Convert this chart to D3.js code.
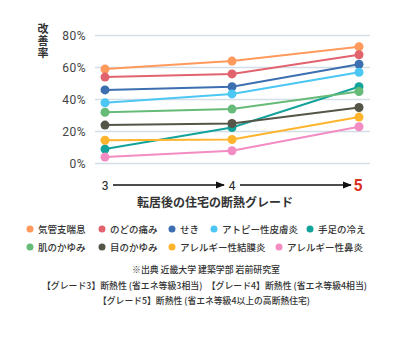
<!DOCTYPE html>
<html><head><meta charset="utf-8">
<script src="https://cdn.jsdelivr.net/npm/d3@7/dist/d3.min.js"></script>
<style>body{margin:0;background:#fff;}svg{display:block;font-family:"Noto Sans CJK JP","Noto Sans",sans-serif;}</style>
</head><body>
<script>
const grades = ["3", "4", "5"];
const seriesNames = ["気管支喘息","のどの痛み","せき","アトピー性皮膚炎","手足の冷え","肌のかゆみ","目のかゆみ","アレルギー性結膜炎","アレルギー性鼻炎"];
const seriesColors = ["#ff9a5c","#e0636e","#3d6fb0","#4cc6f2","#13a39b","#67bb78","#555548","#ffb42e","#f28cc2"];
const v_kikanshi = [59, 64, 73];
const v_nodo = [54, 56, 68];
const v_seki = [46, 48, 62];
const v_atopy = [38, 43.5, 57];
const v_teashi = [9, 22.5, 48];
const v_hada = [32, 34, 45];
const v_me = [24, 25, 35];
const v_ketsumaku = [14.5, 15, 29];
const v_bien = [4, 8, 23];
const seriesValues = [v_kikanshi, v_nodo, v_seki, v_atopy, v_teashi, v_hada, v_me, v_ketsumaku, v_bien];
const yTicks = [0, 20, 40, 60, 80];
const notes = ["※出典 近畿大学 建築学部 岩前研究室","【グレード3】断熱性 (省エネ等級3相当)　【グレード4】断熱性 (省エネ等級4相当)","【グレード5】断熱性 (省エネ等級4以上の高断熱住宅)"];

const W=410,H=340;
const svg=d3.select("body").append("svg").attr("width",W).attr("height",H);
const x=d3.scalePoint().domain(grades).range([105,359]);
const y=d3.scaleLinear().domain([0,80]).range([163.5,35.5]);

// grid
const yAxis=d3.axisLeft(y).tickValues(yTicks).tickFormat(d=>d+"%").tickSize(0).tickPadding(9);
const ga=svg.append("g").attr("transform","translate(95,0)").call(yAxis);
ga.select(".domain").remove();
ga.selectAll("text").attr("font-size",12).attr("fill","#444").attr("letter-spacing",0.5).attr("font-family","Roboto,'Noto Sans',sans-serif");
svg.append("g").selectAll("line").data(yTicks).join("line")
  .attr("x1",95).attr("x2",370).attr("y1",d=>y(d)).attr("y2",d=>y(d))
  .attr("stroke","#d3dee6").attr("stroke-width",1.5);

// y label vertical
svg.append("text").attr("x",43).attr("y",23).attr("font-size",11).attr("font-weight","bold")
  .attr("fill","#333").style("writing-mode","vertical-rl").style("letter-spacing","1px").text("改善率");

// lines
const line=d3.line().x((d,i)=>x(grades[i])).y(d=>y(d));
seriesValues.forEach((vals,k)=>{
  const g=svg.append("g");
  g.append("path").datum(vals).attr("d",line).attr("fill","none").attr("stroke",seriesColors[k]).attr("stroke-width",2);
  g.selectAll("circle").data(vals).join("circle").attr("cx",(d,i)=>x(grades[i])).attr("cy",d=>y(d)).attr("r",4.5).attr("fill",seriesColors[k]);
});

// grade arrow axis
const defs=svg.append("defs");
defs.append("marker").attr("id","ah").attr("viewBox","0 0 10 10").attr("refX",9).attr("refY",5)
  .attr("markerWidth",6).attr("markerHeight",6).attr("orient","auto")
  .append("path").attr("d","M0,1L10,5L0,9Z").attr("fill","#111");
const ay=185;
svg.selectAll("text.grade").data(grades).join("text").attr("class","grade")
  .attr("x",d=>x(d)-(d==="5"?1:0)).attr("y",d=>d==="5"?ay+5.5:ay+4.5).attr("text-anchor","middle")
  .attr("font-size",d=>d==="5"?16:12).attr("font-weight",d=>d==="5"?"bold":"normal")
  .attr("fill",d=>d==="5"?"#d9311f":"#222").attr("font-family","Roboto,'Noto Sans',sans-serif").text(d=>d);
[[grades[0],grades[1]],[grades[1],grades[2]]].forEach(([a,b])=>{
  svg.append("line").attr("x1",x(a)+8).attr("x2",x(b)-8).attr("y1",ay).attr("y2",ay)
    .attr("stroke","#111").attr("stroke-width",1.5).attr("marker-end","url(#ah)");
});
svg.append("text").attr("x",215).attr("y",207).attr("text-anchor","middle").attr("font-size",12)
  .attr("font-weight","bold").attr("fill","#333").text("転居後の住宅の断熱グレード");

// legend
const legX=[30,102,172,214,310];
const leg2X=[30,102,172,279];
const legPos=seriesNames.map((n,i)=> i<5 ? [legX[i],229] : [leg2X[i-5],247]);
const lg=svg.append("g").selectAll("g").data(seriesNames).join("g")
  .attr("transform",(d,i)=>`translate(${legPos[i][0]},${legPos[i][1]})`);
lg.append("circle").attr("r",3.5).attr("fill",(d,i)=>seriesColors[i]);
lg.append("text").attr("x",8).attr("y",3.5).attr("font-size",9.5).attr("font-weight",500).attr("fill","#333").text(d=>d);

// notes
const noteLen=[148,325,212];
svg.append("g").selectAll("text").data(notes).join("text")
  .attr("x",(d,i)=>[206,204.5,204][i]).attr("y",(d,i)=>273+i*15.5).attr("text-anchor","middle")
  .attr("font-size",9).attr("font-weight",500).attr("fill","#333")
  .attr("textLength",(d,i)=>noteLen[i]).attr("lengthAdjust","spacingAndGlyphs").text(d=>d);
</script>
</body></html>
